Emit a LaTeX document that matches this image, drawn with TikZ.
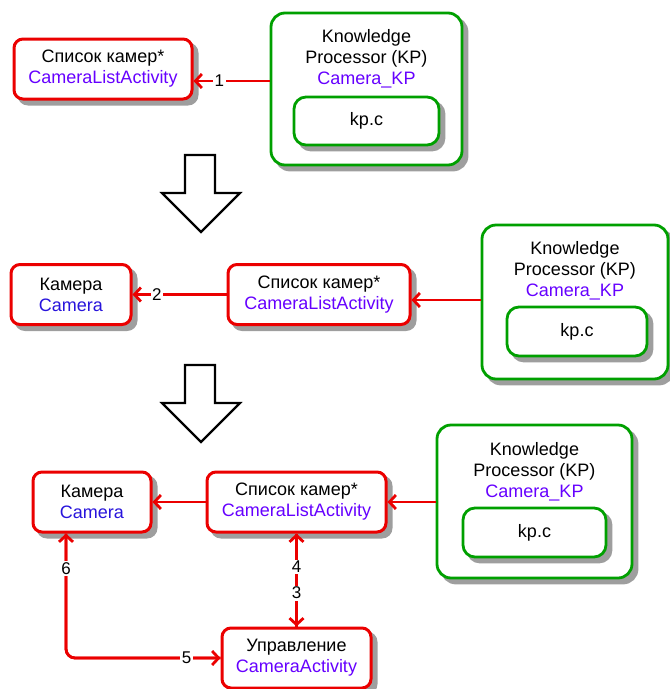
\documentclass[tikz,border=0pt]{standalone}
\usepackage{fontspec}
\setmainfont{Liberation Sans}
\usetikzlibrary{arrows.meta,positioning}
\definecolor{actred}{RGB}{235,0,0}
\definecolor{kpgreen}{RGB}{0,160,0}
\definecolor{namepurple}{RGB}{102,0,255}
\definecolor{nameblue}{RGB}{40,20,220}
\tikzset{
  boxshadow/.style={
    preaction={draw=black!38,fill=black!38,transform canvas={shift={(5pt,-5pt)}}}
  },
  act/.style={
    rounded corners=9pt,
    draw=actred,
    line width=3pt,
    fill=white,
    align=center,
    minimum height=60pt,
    inner sep=2pt,
    boxshadow,
    font=\fontsize{18}{21}\selectfont
  },
  kpbox/.style={
    rounded corners=14pt,
    draw=kpgreen,
    line width=2.8pt,
    fill=white,
    boxshadow
  },
  cfile/.style={
    rounded corners=12pt,
    draw=kpgreen,
    line width=2.8pt,
    fill=white,
    align=center,
    boxshadow,
    font=\fontsize{18}{21}\selectfont
  },
  title/.style={
    align=center,
    inner sep=0pt,
    font=\fontsize{18}{21}\selectfont
  },
  flow/.style={
    -{Straight Barb[length=6.5pt,width=14pt]},
    line width=2.8pt,
    actred
  },
  num/.style={
    fill=white,
    text=black,
    inner sep=1.5pt,
    font=\fontsize{17}{18}\selectfont
  },
  hollow/.style={
    draw=black,
    line width=2.2pt,
    fill=white,
    line join=miter
  }
}
\newcommand{\listtext}{Список камер*\\\textcolor{namepurple}{CameraListActivity}}
\newcommand{\camtext}{Камера\\\textcolor{nameblue}{Camera}}
\newcommand{\kptext}{Knowledge\\Processor (KP)\\\textcolor{namepurple}{Camera\_KP}}

\begin{document}
\begin{tikzpicture}[x=1pt,y=-1pt]
\useasboundingbox (0,0) rectangle (670,689);

% step 1
\node[act,minimum width=178pt] (list1) at (103,69) {\listtext};
\node[kpbox,minimum width=191pt,minimum height=152pt] (kp1) at (366.5,89) {};
\node[title] (kpt1) at (366.5,59) {\kptext};
\node[cfile,minimum width=145pt,minimum height=48pt] (kpc1) at (366.5,121) {kp.c};
\draw[flow] (kp1.west |- 0,81) -- node[num,pos=.66] {1} (list1.east |- 0,81);

% step 2
\node[act,minimum width=120pt] (cam2) at (71,294.5) {\camtext};
\node[act,minimum width=182pt] (list2) at (319,294.5) {\listtext};
\node[kpbox,minimum width=186pt,minimum height=154pt] (kp2) at (575,302) {};
\node[title] (kpt2) at (575,271) {\kptext};
\node[cfile,minimum width=140pt,minimum height=49pt] (kpc2) at (577,331.5) {kp.c};
\draw[flow] (kp2.west |- 0,300) -- (list2.east |- 0,300);
\draw[flow] (list2) -- node[num,pos=.74] {2} (cam2);

% step 3
\node[act,minimum width=118pt] (cam3) at (92,502) {\camtext};
\node[act,minimum width=179pt] (list3) at (296.5,502) {\listtext};
\node[kpbox,minimum width=195pt,minimum height=153pt] (kp3) at (534.5,501.5) {};
\node[title] (kpt3) at (534.5,472) {\kptext};
\node[cfile,minimum width=143pt,minimum height=49pt] (kpc3) at (534.5,532.5) {kp.c};
\node[act,minimum width=149pt] (ctrl) at (296.5,658) {Управление\\\textcolor{namepurple}{CameraActivity}};
\draw[flow] (kp3.west |- list3) -- (list3);
\draw[flow] (list3) -- (cam3);
\draw[flow] (list3) -- (ctrl);
\draw[flow] (ctrl) -- (list3);
\draw[flow,rounded corners=9pt] ([xshift=-26pt]cam3.south) |- (ctrl);
\draw[flow,rounded corners=9pt] (ctrl) -| ([xshift=-26pt]cam3.south);
% numbers on top of the double lines
\path (list3) -- node[num,pos=.64] {3} (ctrl)
      (ctrl) -- node[num,pos=.64] {4} (list3)
      ([xshift=-26pt]cam3.south) |- node[num,pos=.89] {5} (ctrl)
      (ctrl) -| node[num,pos=.86] {6} ([xshift=-26pt]cam3.south);

% hollow arrows between the steps
\foreach \t in {155,365}
  \draw[hollow] (185,\t) -- (215,\t) -- (215,\t+38) -- (240,\t+38)
    -- (201,\t+77) -- (162,\t+38) -- (185,\t+38) -- cycle;
\end{tikzpicture}
\end{document}
